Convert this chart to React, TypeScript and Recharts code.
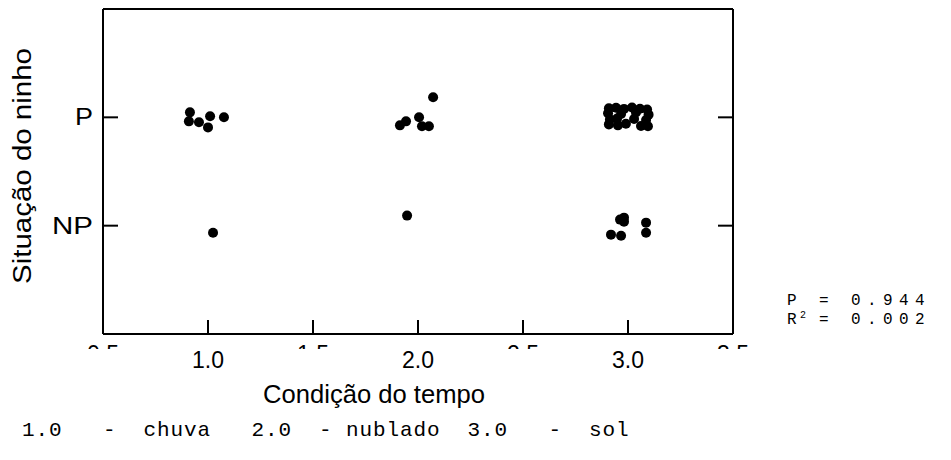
import React from 'react';
import { ScatterChart, Scatter, XAxis, YAxis, Label } from 'recharts';

// x = condição do tempo (1 chuva, 2 nublado, 3 sol) com jitter; y = 1 NP, 2 P
const xTicks = [0.5, 1, 1.5, 2, 2.5, 3, 3.5];
const yTicks = [1, 2];
const yTickLabels: Record<number, string> = { 1: 'NP', 2: 'P' };

const ninhoP = [
  { x: 0.914, y: 2.046 }, { x: 0.909, y: 1.963 }, { x: 0.957, y: 1.954 },
  { x: 1.01, y: 2.01 }, { x: 1.0, y: 1.907 }, { x: 1.076, y: 2.0 },
  { x: 1.914, y: 1.926 }, { x: 1.943, y: 1.963 }, { x: 2.005, y: 2.0 },
  { x: 2.019, y: 1.917 }, { x: 2.052, y: 1.917 }, { x: 2.072, y: 2.185 },
  { x: 2.909, y: 2.083 }, { x: 2.943, y: 2.088 }, { x: 2.981, y: 2.078 },
  { x: 3.019, y: 2.09 }, { x: 3.057, y: 2.08 }, { x: 3.091, y: 2.072 },
  { x: 2.905, y: 2.037 }, { x: 2.967, y: 2.03 }, { x: 3.038, y: 2.045 },
  { x: 3.098, y: 2.025 }, { x: 2.914, y: 1.981 }, { x: 2.948, y: 1.99 },
  { x: 3.029, y: 1.985 }, { x: 3.086, y: 1.975 }, { x: 2.909, y: 1.935 },
  { x: 2.952, y: 1.926 }, { x: 2.99, y: 1.94 }, { x: 3.062, y: 1.92 },
  { x: 3.095, y: 1.918 },
];

const ninhoNP = [
  { x: 1.024, y: 0.935 }, { x: 1.948, y: 1.093 },
  { x: 2.919, y: 0.917 }, { x: 2.967, y: 0.907 }, { x: 2.962, y: 1.056 },
  { x: 2.981, y: 1.074 }, { x: 2.981, y: 1.037 }, { x: 3.086, y: 1.028 },
  { x: 3.086, y: 0.935 },
];

const FONT = "Arial, 'Liberation Sans', sans-serif";
const MONO = "'Courier New', 'Liberation Mono', monospace";

const BottomTick = (props: any) => {
  const { x, y, payload } = props;
  const v: number = payload.value;
  const whole = Number.isInteger(v);
  const id = `clip-half-${String(v).replace('.', '-')}`;
  return (
    <g>
      <line x1={x} y1={y} x2={x} y2={y - 14} stroke="#000" strokeWidth={2} />
      {whole ? (
        <text x={x} y={y + 34} textAnchor="middle" fontSize={23} fontFamily={FONT} fill="#000">
          {v.toFixed(1)}
        </text>
      ) : (
        <g>
          <defs>
            <clipPath id={id}>
              <rect x={x - 30} y={y + 11} width={60} height={4} />
            </clipPath>
          </defs>
          <text x={x} y={y + 27.5} textAnchor="middle" fontSize={23} fontFamily={FONT} fill="#000" clipPath={`url(#${id})`}>
            {v.toFixed(1)}
          </text>
        </g>
      )}
    </g>
  );
};

const TopTick = (props: any) => {
  const { x, y } = props;
  return <line x1={x} y1={y} x2={x} y2={y + 14} stroke="#000" strokeWidth={2} />;
};

const LeftTick = (props: any) => {
  const { x, y, payload } = props;
  const label = yTickLabels[payload.value];
  return (
    <g>
      <line x1={x} y1={y} x2={x + 15} y2={y} stroke="#000" strokeWidth={2} />
      <text x={x - 10} y={y + 8} textAnchor="end" fontSize={23} fontFamily={FONT} fill="#000"
        textLength={label.length > 1 ? 41 : 18} lengthAdjust="spacingAndGlyphs">
        {label}
      </text>
    </g>
  );
};

const RightTick = (props: any) => {
  const { x, y } = props;
  return <line x1={x} y1={y} x2={x - 15} y2={y} stroke="#000" strokeWidth={2} />;
};

const XTitle = (props: any) => {
  const { viewBox } = props;
  return (
    <text x={viewBox.x + 271} y={viewBox.y + 69} textAnchor="middle" fontSize={26} fontFamily={FONT} fill="#000"
      textLength={222} lengthAdjust="spacingAndGlyphs">
      Condição do tempo
    </text>
  );
};

const YTitle = (props: any) => {
  const { viewBox } = props;
  const cx = viewBox.x + viewBox.width - 72;
  const cy = viewBox.y + 157;
  return (
    <text x={cx} y={cy} textAnchor="middle" fontSize={25} fontFamily={FONT} fill="#000"
      transform={`rotate(-90, ${cx}, ${cy})`} textLength={236} lengthAdjust="spacingAndGlyphs">
      Situação do ninho
    </text>
  );
};

const Dot = (props: any) => <circle cx={props.cx} cy={props.cy} r={5} fill="#000" />;

const axisLine = { stroke: '#000', strokeWidth: 2 };

const App: React.FC = () => {
  return (
    <div style={{ position: 'relative', width: 935, height: 444 }}>
      <ScatterChart width={935} height={444} margin={{ top: 0, right: 209, bottom: 117, left: 94 }}>
        <XAxis type="number" dataKey="x" xAxisId="b" domain={[0.5, 3.5]} ticks={xTicks} height={1}
          axisLine={axisLine} tickLine={false} tickSize={0} tickMargin={0}
          tick={<BottomTick />} interval={0} allowDataOverflow>
          <Label content={<XTitle />} />
        </XAxis>
        <XAxis type="number" xAxisId="t" orientation="top" domain={[0.5, 3.5]} ticks={xTicks} height={1}
          axisLine={axisLine} tickLine={false} tickSize={0} tickMargin={0}
          tick={<TopTick />} interval={0} allowDataOverflow />
        <YAxis type="number" dataKey="y" yAxisId="l" domain={[0, 3]} ticks={yTicks} width={1}
          axisLine={axisLine} tickLine={false} tickSize={0} tickMargin={0}
          tick={<LeftTick />} interval={0} allowDataOverflow>
          <Label content={<YTitle />} />
        </YAxis>
        <YAxis type="number" yAxisId="r" orientation="right" domain={[0, 3]} ticks={yTicks} width={1}
          axisLine={axisLine} tickLine={false} tickSize={0} tickMargin={0}
          tick={<RightTick />} interval={0} allowDataOverflow />
        <Scatter data={ninhoP} xAxisId="b" yAxisId="l" shape={<Dot />} isAnimationActive={false} />
        <Scatter data={ninhoNP} xAxisId="b" yAxisId="l" shape={<Dot />} isAnimationActive={false} />
      </ScatterChart>
      <svg width={951} height={460} style={{ position: 'absolute', left: -8, top: -8, pointerEvents: 'none' }}>
        <text x={787} y={305} fontFamily={MONO} fill="#000" fontSize={16} letterSpacing={6.4}>P = 0.944</text>
        <text x={787} y={324} fontFamily={MONO} fill="#000" fontSize={16}>R</text>
        <text x={800} y={318} fontFamily={MONO} fill="#000" fontSize={10}>2</text>
        <text x={819} y={324} fontFamily={MONO} fill="#000" fontSize={16} letterSpacing={6.4}>= 0.002</text>
        <text x={22} y={436} fontSize={21} fontFamily={MONO} letterSpacing={0.9} fill="#000"
          xmlSpace="preserve" style={{ whiteSpace: 'pre' }}>
          {'1.0   -  chuva   2.0  - nublado  3.0   -  sol'}
        </text>
      </svg>
    </div>
  );
};

export default App;
